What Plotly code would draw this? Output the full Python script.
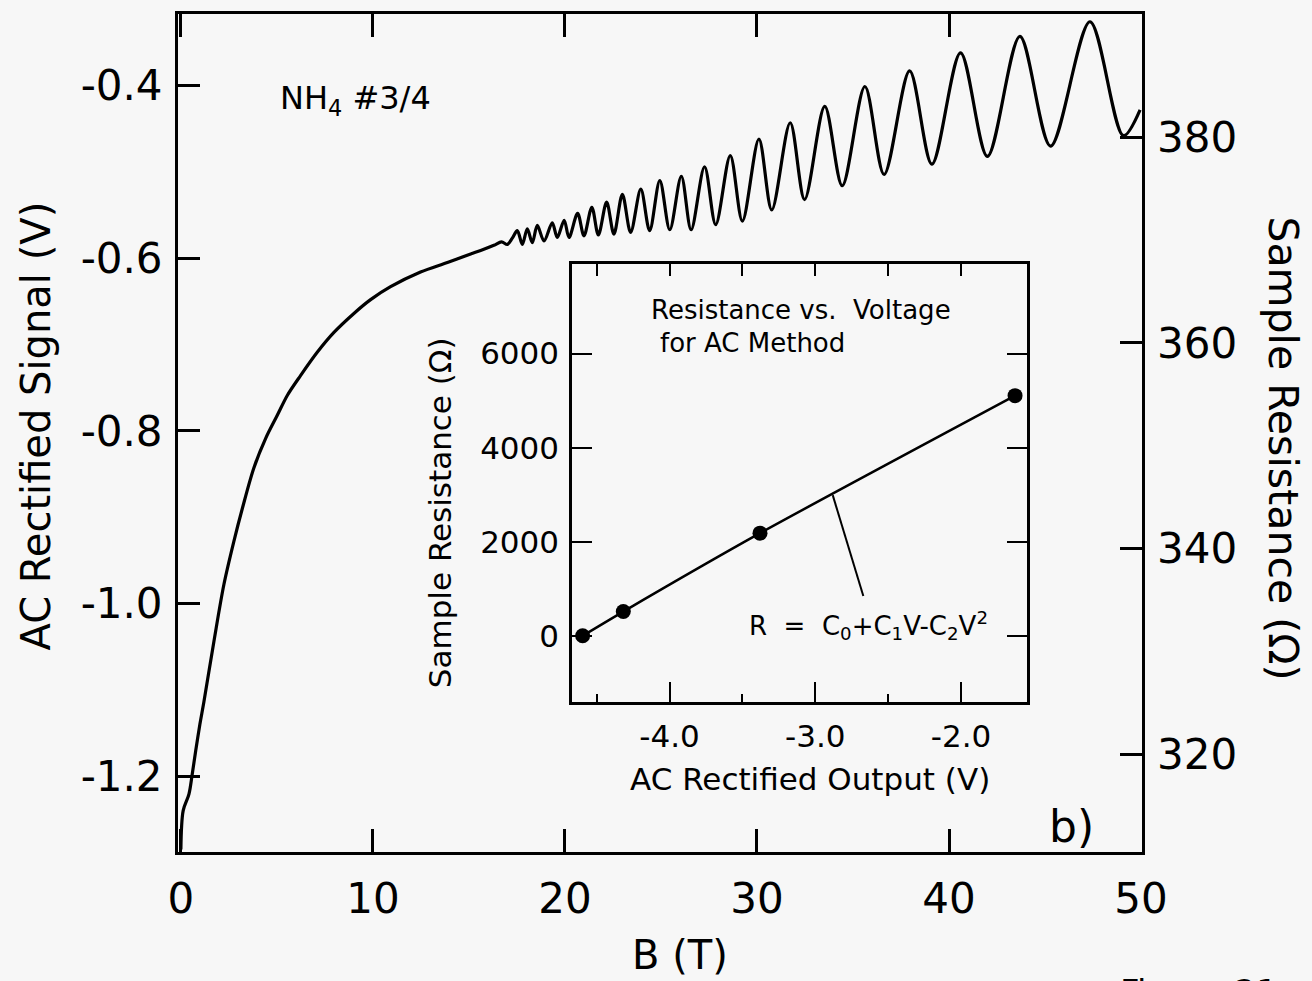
import plotly.graph_objects as go

# Rectified AC signal versus magnetic field (NH4 sample #3/4)
B_FIELD = [
    0.0, 0.12, 0.42, 0.59, 0.77, 0.99, 1.20, 1.72, 2.24, 2.76, 3.20, 3.80,
    4.41, 5.02, 5.54, 6.23, 7.10, 7.97, 9.01, 9.88, 10.92, 12.48, 13.88,
    15.09, 15.61, 16.30, 16.70, 17.00, 17.25,
    17.52, 17.78, 18.04, 18.30, 18.56, 18.91, 19.34, 19.60, 19.96, 20.21,
    20.66, 20.99, 21.40, 21.74, 22.17, 22.55, 22.99, 23.42, 23.95, 24.41,
    24.94, 25.46, 26.06, 26.57, 27.27, 27.85, 28.61, 29.24, 30.10, 30.77,
    31.73, 32.48, 33.53, 34.44, 35.62, 36.62, 37.95, 39.11, 40.60, 42.00,
    43.69, 45.29, 47.34, 49.08, 49.95,
]
V_SIGNAL = [
    -1.285, -1.240, -1.221, -1.198, -1.171, -1.140, -1.114, -1.044, -0.978,
    -0.928, -0.890, -0.843, -0.809, -0.782, -0.759, -0.736, -0.709, -0.686,
    -0.664, -0.648, -0.633, -0.616, -0.605, -0.595, -0.591, -0.585, -0.581,
    -0.584, -0.577,
    -0.568, -0.584, -0.566, -0.582, -0.562, -0.580, -0.559, -0.576, -0.556,
    -0.576, -0.548, -0.574, -0.541, -0.573, -0.535, -0.572, -0.526, -0.570,
    -0.520, -0.568, -0.510, -0.567, -0.505, -0.567, -0.494, -0.561, -0.481,
    -0.557, -0.462, -0.544, -0.443, -0.532, -0.424, -0.516, -0.401, -0.503,
    -0.383, -0.491, -0.362, -0.482, -0.343, -0.470, -0.326, -0.458, -0.428,
]

# Inset: sample resistance against rectified output
V_OUT = [-4.596, -4.317, -3.379, -1.629]
R_SAMPLE = [0, 515, 2182, 5106]

X_TICKS = [0, 10, 20, 30, 40, 50]
X_TICK_LABELS = ["0", "10", "20", "30", "40", "50"]
Y_TICKS = [-1.2, -1.0, -0.8, -0.6, -0.4]
Y_TICK_LABELS = ["-1.2", "-1.0", "-0.8", "-0.6", "-0.4"]
R_TICKS = [320, 340, 360, 380]
R_TICK_LABELS = ["320", "340", "360", "380"]
INSET_X_TICKS = [-4.0, -3.0, -2.0]
INSET_X_TICK_LABELS = ["-4.0", "-3.0", "-2.0"]
INSET_X_MINOR = [-4.5, -3.5, -2.5]
INSET_X_TOP = [-4.5, -4.0, -3.5, -3.0, -2.5, -2.0]
INSET_Y_TICKS = [0, 2000, 4000, 6000]
INSET_Y_TICK_LABELS = ["0", "2000", "4000", "6000"]

W, H = 1312, 981
ML, MR, MT, MB = 178, 170, 11, 129
PW = W - ML - MR
PH = H - MT - MB
BG = "#f7f7f7"
INK = "black"
FONT = "DejaVu Sans"


def fx(px):
    return (px - ML) / PW


def fy(py):
    return (H - MB - py) / PH


fig = go.Figure()

fig.add_trace(go.Scatter(
    x=B_FIELD, y=V_SIGNAL, mode="lines",
    line=dict(color=INK, width=3.2, shape="spline", smoothing=0.9),
    xaxis="x", yaxis="y", showlegend=False, hoverinfo="skip",
))
# right-hand resistance scale shares the main frame
fig.add_trace(go.Scatter(x=[None], y=[None], xaxis="x", yaxis="y2",
                         showlegend=False, hoverinfo="skip"))

fig.add_trace(go.Scatter(
    x=V_OUT, y=R_SAMPLE, mode="lines+markers",
    line=dict(color=INK, width=2.5, shape="spline", smoothing=0.6),
    marker=dict(color=INK, size=15),
    xaxis="x3", yaxis="y3", showlegend=False, hoverinfo="skip",
))
fig.add_trace(go.Scatter(x=[None], y=[None], xaxis="x4", yaxis="y3",
                         showlegend=False, hoverinfo="skip"))

axis_common = dict(showgrid=False, zeroline=False, linecolor=INK,
                   tickcolor=INK, ticks="inside")

fig.update_layout(
    width=W, height=H, autosize=False,
    margin=dict(l=ML, r=MR, t=MT, b=MB, pad=0),
    paper_bgcolor=BG, plot_bgcolor=BG,
    font=dict(family=FONT, color=INK),
    xaxis=dict(
        **axis_common, domain=[0, 1], anchor="y", range=[-0.15, 50.05],
        tickmode="array", tickvals=X_TICKS, ticktext=X_TICK_LABELS,
        ticklen=23, tickwidth=2.5, showline=True, linewidth=3, mirror="ticks",
        tickfont=dict(family=FONT, size=42, color=INK), ticklabelstandoff=8,
    ),
    yaxis=dict(
        **axis_common, domain=[0, 1], anchor="x", range=[-1.288, -0.317],
        tickmode="array", tickvals=Y_TICKS, ticktext=Y_TICK_LABELS,
        ticklen=22, tickwidth=2.5, showline=True, linewidth=3, mirror=True,
        tickfont=dict(family=FONT, size=42, color=INK), ticklabelstandoff=4,
    ),
    yaxis2=dict(
        **axis_common, overlaying="y", side="right", anchor="x",
        range=[310.54, 391.96],
        tickmode="array", tickvals=R_TICKS, ticktext=R_TICK_LABELS,
        ticklen=22, tickwidth=2.5, showline=False,
        tickfont=dict(family=FONT, size=42, color=INK), ticklabelstandoff=14,
    ),
    xaxis3=dict(
        **axis_common, domain=[fx(572), fx(1027)], anchor="y3",
        range=[-4.669, -1.547],
        tickmode="array", tickvals=INSET_X_TICKS, ticktext=INSET_X_TICK_LABELS,
        ticklen=20, tickwidth=2, showline=True, linewidth=2.5, mirror=True,
        minor=dict(tickmode="array", tickvals=INSET_X_MINOR, ticks="inside",
                   ticklen=8, tickwidth=2, tickcolor=INK, showgrid=False),
        tickfont=dict(family=FONT, size=31, color=INK), ticklabelstandoff=6,
    ),
    xaxis4=dict(
        **axis_common, overlaying="x3", side="top", anchor="y3",
        range=[-4.669, -1.547],
        tickmode="array", tickvals=INSET_X_TOP, ticklen=12, tickwidth=2,
        showticklabels=False, showline=False,
    ),
    yaxis3=dict(
        **axis_common, domain=[fy(701), fy(262)], anchor="x3",
        range=[-1398, 7903],
        tickmode="array", tickvals=INSET_Y_TICKS, ticktext=INSET_Y_TICK_LABELS,
        ticklen=20, tickwidth=2, showline=True, linewidth=2.5, mirror="ticks",
        tickfont=dict(family=FONT, size=31, color=INK), ticklabelstandoff=4,
    ),
)

# pointer from the fit formula to the fitted line
fig.add_shape(type="line", xref="x3", yref="y3",
              x0=-2.670, y0=847, x1=-2.880, y1=2990,
              line=dict(color=INK, width=2))


def label(text, px, py, size, **kw):
    fig.add_annotation(text=text, x=fx(px), y=fy(py), xref="paper",
                       yref="paper", showarrow=False,
                       font=dict(family=FONT, size=size, color=INK), **kw)


label("B (T)", 680, 955, 40, xanchor="center", yanchor="middle")
label("AC Rectified Signal (V)", 36, 425, 40, textangle=-90,
      xanchor="center", yanchor="middle")
label("Sample Resistance (Ω)", 1283, 447, 41, textangle=90,
      xanchor="center", yanchor="middle")
label("NH<sub>4</sub> #3/4", 278, 97, 32, xanchor="left", yanchor="middle")
label("b)", 1071, 826, 44, xanchor="center", yanchor="middle")
label("Resistance vs.\u00a0\u00a0Voltage", 649, 308, 26,
      xanchor="left", yanchor="middle")
label("for AC Method", 658, 341, 26, xanchor="left", yanchor="middle")
label("R\u00a0\u00a0=\u00a0\u00a0C<sub>0</sub>+C<sub>1</sub>V-C<sub>2</sub>V<sup>2</sup>",
      747, 625, 26, xanchor="left", yanchor="middle")
label("AC Rectified Output (V)", 810, 779, 31, xanchor="center",
      yanchor="middle")
label("Sample Resistance (Ω)", 440, 512, 31, textangle=-90,
      xanchor="center", yanchor="middle")
label("Figure 21", 1118, 970, 34, xanchor="left", yanchor="top")

fig.write_html("out.html", config={"displayModeBar": False})
